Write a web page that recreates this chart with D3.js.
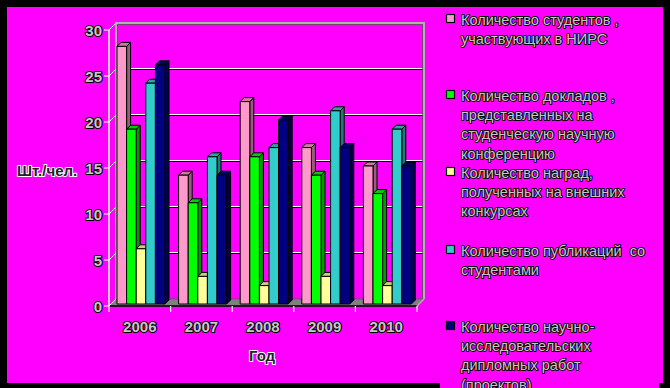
<!DOCTYPE html>
<html>
<head>
<meta charset="utf-8">
<script src="https://cdn.jsdelivr.net/npm/d3@7"></script>
<style>
  body { margin: 0; background: #000; }
  svg { display: block; }
  .lbl { font-family: "Liberation Sans", Arial, sans-serif; paint-order: stroke; stroke-linejoin: round; white-space: pre; }
</style>
</head>
<body>
<svg width="670" height="388"></svg>
<script>
const years = ["2006", "2007", "2008", "2009", "2010"];
const seriesNames = [
  "Количество студентов , участвующих в НИРС",
  "Количество докладов , представленных на студенческую научную конференцию",
  "Количество наград, полученных на внешних конкурсах",
  "Количество публикаций  со студентами",
  "Количество научно-исследовательских дипломных работ (проектов)"
];
const legendLines = [
  ["Количество студентов ,", "участвующих в НИРС"],
  ["Количество докладов ,", "представленных на", "студенческую научную", "конференцию"],
  ["Количество наград,", "полученных на внешних", "конкурсах"],
  ["Количество публикаций  со", "студентами"],
  ["Количество научно-", "исследовательских", "дипломных работ", "(проектов)"]
];
const students = [28, 14, 22, 17, 15];
const reports = [19, 11, 16, 14, 12];
const awards = [6, 3, 2, 3, 2];
const publications = [24, 16, 17, 21, 19];
const theses = [26, 14, 20, 17, 15];
const yTicks = [0, 5, 10, 15, 20, 25, 30];

const colors = ["#FF99CC", "#00FF00", "#FFFF99", "#33CCCC", "#000080"];
const sides = ["#995C7A", "#009900", "#999966", "#1F7A7A", "#00004D"];
const tops = ["#CC7AA3", "#00CC00", "#CCCC7A", "#29A3A3", "#000066"];
const allSeries = [students, reports, awards, publications, theses];

const svg = d3.select("svg");
svg.append("rect").attr("x", 7).attr("y", 7).attr("width", 656).attr("height", 376).attr("fill", "#FF00FF");
svg.append("rect").attr("x", 440).attr("y", 383).attr("width", 219).attr("height", 5).attr("fill", "#FF00FF");

const dx = 7, dy = -7;           // wall depth
const x = d3.scaleBand().domain(years).range([109, 417]);
const y = d3.scaleLinear().domain([0, 30]).range([306, 30]);
const inner = d3.scaleBand().domain(d3.range(5)).range([0, 48]);

// floor
const x0 = 109, x1 = 417;
svg.append("path")
  .attr("d", `M${x0},${y(0)}L${x0 + dx},${y(0) + dy}L${x1 + dx},${y(0) + dy}L${x1},${y(0)}Z`)
  .attr("fill", "#808080").attr("stroke", "#555").attr("stroke-width", 0.8);

// back wall gridlines
yTicks.filter(t => t > 0 && t < 30).forEach(t => {
  svg.append("line").attr("x1", x0 + dx).attr("x2", x1 + dx)
    .attr("y1", y(t) + dy - 0.5).attr("y2", y(t) + dy - 0.5).attr("stroke", "#fff").attr("stroke-width", 1);
  svg.append("line").attr("x1", x0 + dx).attr("x2", x1 + dx)
    .attr("y1", y(t) + dy + 0.5).attr("y2", y(t) + dy + 0.5).attr("stroke", "#000").attr("stroke-width", 1);
});
// back wall border
svg.append("path")
  .attr("d", `M${x0 + dx},${y(0) + dy}L${x0 + dx},${y(30) + dy}L${x1 + dx},${y(30) + dy}L${x1 + dx},${y(0) + dy}`)
  .attr("fill", "none").attr("stroke", "#b0b0b0").attr("stroke-width", 2);
svg.append("path")
  .attr("d", `M${x0 + dx + 1.5},${y(0) + dy}L${x0 + dx + 1.5},${y(30) + dy + 1.5}L${x1 + dx - 1.5},${y(30) + dy + 1.5}L${x1 + dx - 1.5},${y(0) + dy}`)
  .attr("fill", "none").attr("stroke", "#555").attr("stroke-width", 0.8);

// bars
const bd = 4, bo = 2; // bar depth, set-back
years.forEach((yr, i) => {
  allSeries.forEach((s, k) => {
    const v = s[i];
    const bx = x(yr) + 6 + bo + inner(k);
    const bw = inner.bandwidth();
    const base = y(0) - bo;
    const top = y(v) - bo;
    const g = svg.append("g").attr("stroke", "#000").attr("stroke-width", 1).attr("stroke-linejoin", "round");
    g.append("path").attr("fill", sides[k])
      .attr("d", `M${bx + bw},${base}L${bx + bw},${top}L${bx + bw + bd},${top - bd}L${bx + bw + bd},${base - bd}Z`);
    g.append("path").attr("fill", tops[k])
      .attr("d", `M${bx},${top}L${bx + bd},${top - bd}L${bx + bw + bd},${top - bd}L${bx + bw},${top}Z`);
    g.append("rect").attr("fill", colors[k]).attr("x", bx).attr("y", top).attr("width", bw).attr("height", base - top);
  });
});

// axes
svg.append("line").attr("x1", x0).attr("x2", x0).attr("y1", y(30)).attr("y2", y(0))
  .attr("stroke", "#fff").attr("stroke-width", 1.5);
svg.append("line").attr("x1", x0).attr("x2", x1).attr("y1", y(0)).attr("y2", y(0))
  .attr("stroke", "#000").attr("stroke-width", 1.5);
svg.append("line").attr("x1", x1).attr("x2", x1 + dx).attr("y1", y(0)).attr("y2", y(0) + dy)
  .attr("stroke", "#b0b0b0").attr("stroke-width", 1.5);

yTicks.forEach(t => {
  svg.append("path").attr("d", `M${x0 - 5},${y(t)}L${x0},${y(t)}L${x0 + dx},${y(t) + dy}`)
    .attr("fill", "none").attr("stroke", "#fff").attr("stroke-width", 1);
  svg.append("text").attr("class", "lbl").attr("x", x0 - 7).attr("y", y(t) + 5.5)
    .attr("text-anchor", "end").attr("font-size", 15).attr("font-weight", "bold")
    .attr("fill", "#c8c8c8").attr("stroke", "#000").attr("stroke-width", 2).text(t);
});
[x0].concat(years.map(yr => x(yr) + x.bandwidth())).forEach(px => {
  svg.append("line").attr("x1", px).attr("x2", px).attr("y1", y(0)).attr("y2", y(0) + 6)
    .attr("stroke", "#fff").attr("stroke-width", 1.2);
});
years.forEach(yr => {
  svg.append("text").attr("class", "lbl").attr("x", x(yr) + x.bandwidth() / 2).attr("y", 332)
    .attr("text-anchor", "middle").attr("font-size", 15).attr("font-weight", "bold")
    .attr("fill", "#c8c8c8").attr("stroke", "#000").attr("stroke-width", 2).text(yr);
});

svg.append("text").attr("class", "lbl").attr("x", 17).attr("y", 176)
  .attr("font-size", 15).attr("font-weight", "bold")
  .attr("fill", "#222").attr("stroke", "#fff").attr("stroke-width", 2).text("Шт./чел.");
svg.append("text").attr("class", "lbl").attr("x", 262).attr("y", 361)
  .attr("text-anchor", "middle").attr("font-size", 15).attr("font-weight", "bold")
  .attr("fill", "#222").attr("stroke", "#fff").attr("stroke-width", 2).text("Год");

// legend
const legendTop = [25, 101, 178, 256, 332];
legendLines.forEach((lines, k) => {
  const ty = legendTop[k];
  svg.append("rect").attr("x", 446.5).attr("y", ty - 10.5).attr("width", 8).attr("height", 8)
    .attr("fill", colors[k]).attr("stroke", "#000").attr("stroke-width", 1.2);
  const t = svg.append("text").attr("class", "lbl").attr("font-size", 14.5)
    .attr("fill", "#c8c8c8").attr("stroke", "#000").attr("stroke-width", 1.8);
  lines.forEach((ln, j) => {
    t.append("tspan").attr("x", 461).attr("y", ty + j * 19.2).text(ln);
  });
});
</script>
</body>
</html>
